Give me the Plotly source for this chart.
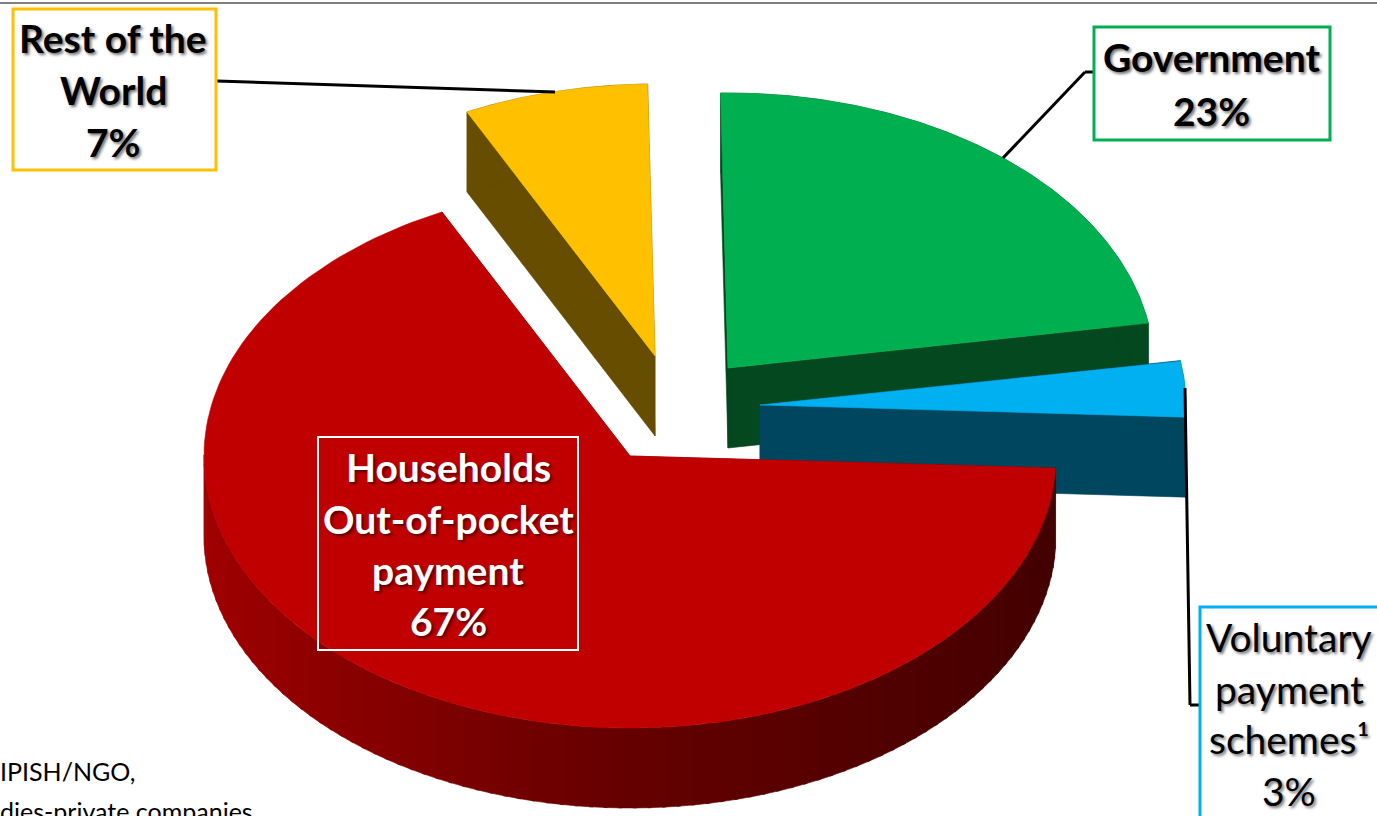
import numpy as np
import plotly.graph_objects as go

# Health expenditure by financing source, percent of total
sources = ["Government", "Voluntary payment schemes", "Households Out-of-pocket payment", "Rest of the World"]
shares = [23, 3, 67, 7]
top_colors = ["#00B050", "#00B0F0", "#C00000", "#FFC000"]
side_colors = ["#03481E", "#00465F", "#7A0000", "#664D00"]

# Where each exploded slice has its apex on the 1377x816 canvas
apex_x = [728, 760, 630, 655]
apex_y = [368, 405, 456, 356]
radius_x = 426
radius_y = [275, 272, 272, 272]
depth = 80
start_angle = 91

# Shading of the curved household wall, from left to right
wall_x = [204, 330, 600, 850, 1056]
wall_r = [160, 140, 104, 84, 68]

label_lines = [
    (["Rest of the", "World", "7%"], 113, [38, 90, 142], "#000000", True),
    (["Government", "23%"], 1211, [57, 111], "#000000", True),
    (["Households", "Out-of-pocket", "payment", "67%"], 448, [467, 519, 570, 621], "#FFFFFF", True),
    (["Voluntary", "payment", "schemes¹", "3%"], 1289, [637, 689, 739, 791], "#000000", False),
]
label_boxes = [
    (13, 9, 216, 170, "#FFC000"),
    (1094, 27, 1330, 140, "#00B050"),
    (318, 437, 578, 650, "#FFFFFF"),
    (1200, 607, 1390, 840, "#00B0F0"),
]
leaders = [
    [(217, 81), (555, 92)],
    [(1003, 158), (1085, 72), (1094, 72)],
    [(1185, 388), (1190, 705), (1200, 705)],
]


def fill_trace(xs, ys, color):
    return go.Scatter(x=list(xs), y=list(ys), mode="lines", fill="toself", fillcolor=color,
                      line=dict(width=0.6, color=color), hoverinfo="skip", showlegend=False)


def arc(cx, cy, ry, a0, a1, n=160):
    degrees = np.linspace(a0, a1, n)
    # Perspective lifts the rim a little on the near right of the disc
    degrees = degrees + np.interp(degrees, [-3, 8, 90], [0, 1.2, 0])
    t = np.radians(degrees)
    return cx + radius_x * np.cos(t), cy - ry * np.sin(t)


fig = go.Figure()

# Slices are painted back to front: yellow, green, blue, red
edges = np.cumsum([0] + shares)
angles = start_angle - 360 * edges / sum(shares)

for i in [3, 0, 1, 2]:
    a0, a1 = angles[i], angles[i + 1]
    cx, cy, ry = apex_x[i], apex_y[i], radius_y[i]
    ax, ay = arc(cx, cy, ry, a0, a1)

    # Flat cut faces on either side of the slice
    for ex, ey in ((ax[0], ay[0]), (ax[-1], ay[-1])):
        fig.add_trace(fill_trace([cx, ex, ex, cx, cx], [cy, ey, ey + depth, cy + depth, cy], side_colors[i]))

    # Curved outer wall; the household slice gets a left-to-right shading
    if i == 2:
        lo, hi = a0, -180
        steps = np.linspace(lo, hi, 91)
        for s0, s1 in zip(steps[:-1], steps[1:]):
            wx, wy = arc(cx, cy, ry, s0 + 0.25, s1 - 0.25, n=8)
            red = int(np.interp(wx.mean(), wall_x, wall_r))
            color = f"rgb({red},0,0)"
            fig.add_trace(fill_trace(np.r_[wx, wx[::-1]], np.r_[wy, wy[::-1] + depth], color))
    else:
        fig.add_trace(fill_trace(np.r_[ax, ax[::-1]], np.r_[ay, ay[::-1] + depth], side_colors[i]))

    fig.add_trace(fill_trace(np.r_[cx, ax, cx], np.r_[cy, ay, cy], top_colors[i]))

shapes = [dict(type="line", x0=0, x1=1377, y0=3, y1=3, line=dict(color="#7F7F7F", width=2))]
for path in leaders:
    for (x0, y0), (x1, y1) in zip(path[:-1], path[1:]):
        shapes.append(dict(type="line", x0=x0, y0=y0, x1=x1, y1=y1, line=dict(color="#000000", width=3)))
for x0, y0, x1, y1, color in label_boxes:
    shapes.append(dict(type="rect", x0=x0, y0=y0, x1=x1, y1=y1, line=dict(color=color, width=3 if color != "#FFFFFF" else 2),
                       fillcolor="rgba(0,0,0,0)"))

annotations = []
for lines, x, ys, color, bold in label_lines:
    shadow = "2px 2px 3px rgba(0,0,0,0.55)"
    for text, y in zip(lines, ys):
        shown = f"<b>{text}</b>" if bold else text
        annotations.append(dict(x=x, y=y, text=shown, showarrow=False, xanchor="center", yanchor="middle",
                                font=dict(family="Lato", size=39, color=color, shadow=shadow)))

for text, y in (("IPISH/NGO,", 771), ("dies-private companies", 811)):
    annotations.append(dict(x=0, y=y, text=text, showarrow=False, xanchor="left", yanchor="middle",
                            xshift=-2, font=dict(family="Lato", size=25, color="#000000")))

fig.update_layout(
    width=1377, height=816, autosize=False,
    margin=dict(l=0, r=0, t=0, b=0),
    paper_bgcolor="#FFFFFF", plot_bgcolor="#FFFFFF",
    xaxis=dict(range=[0, 1377], visible=False, fixedrange=True),
    yaxis=dict(range=[816, 0], visible=False, fixedrange=True),
    shapes=shapes, annotations=annotations,
)

fig.write_html("out.html", config=dict(displayModeBar=False))
